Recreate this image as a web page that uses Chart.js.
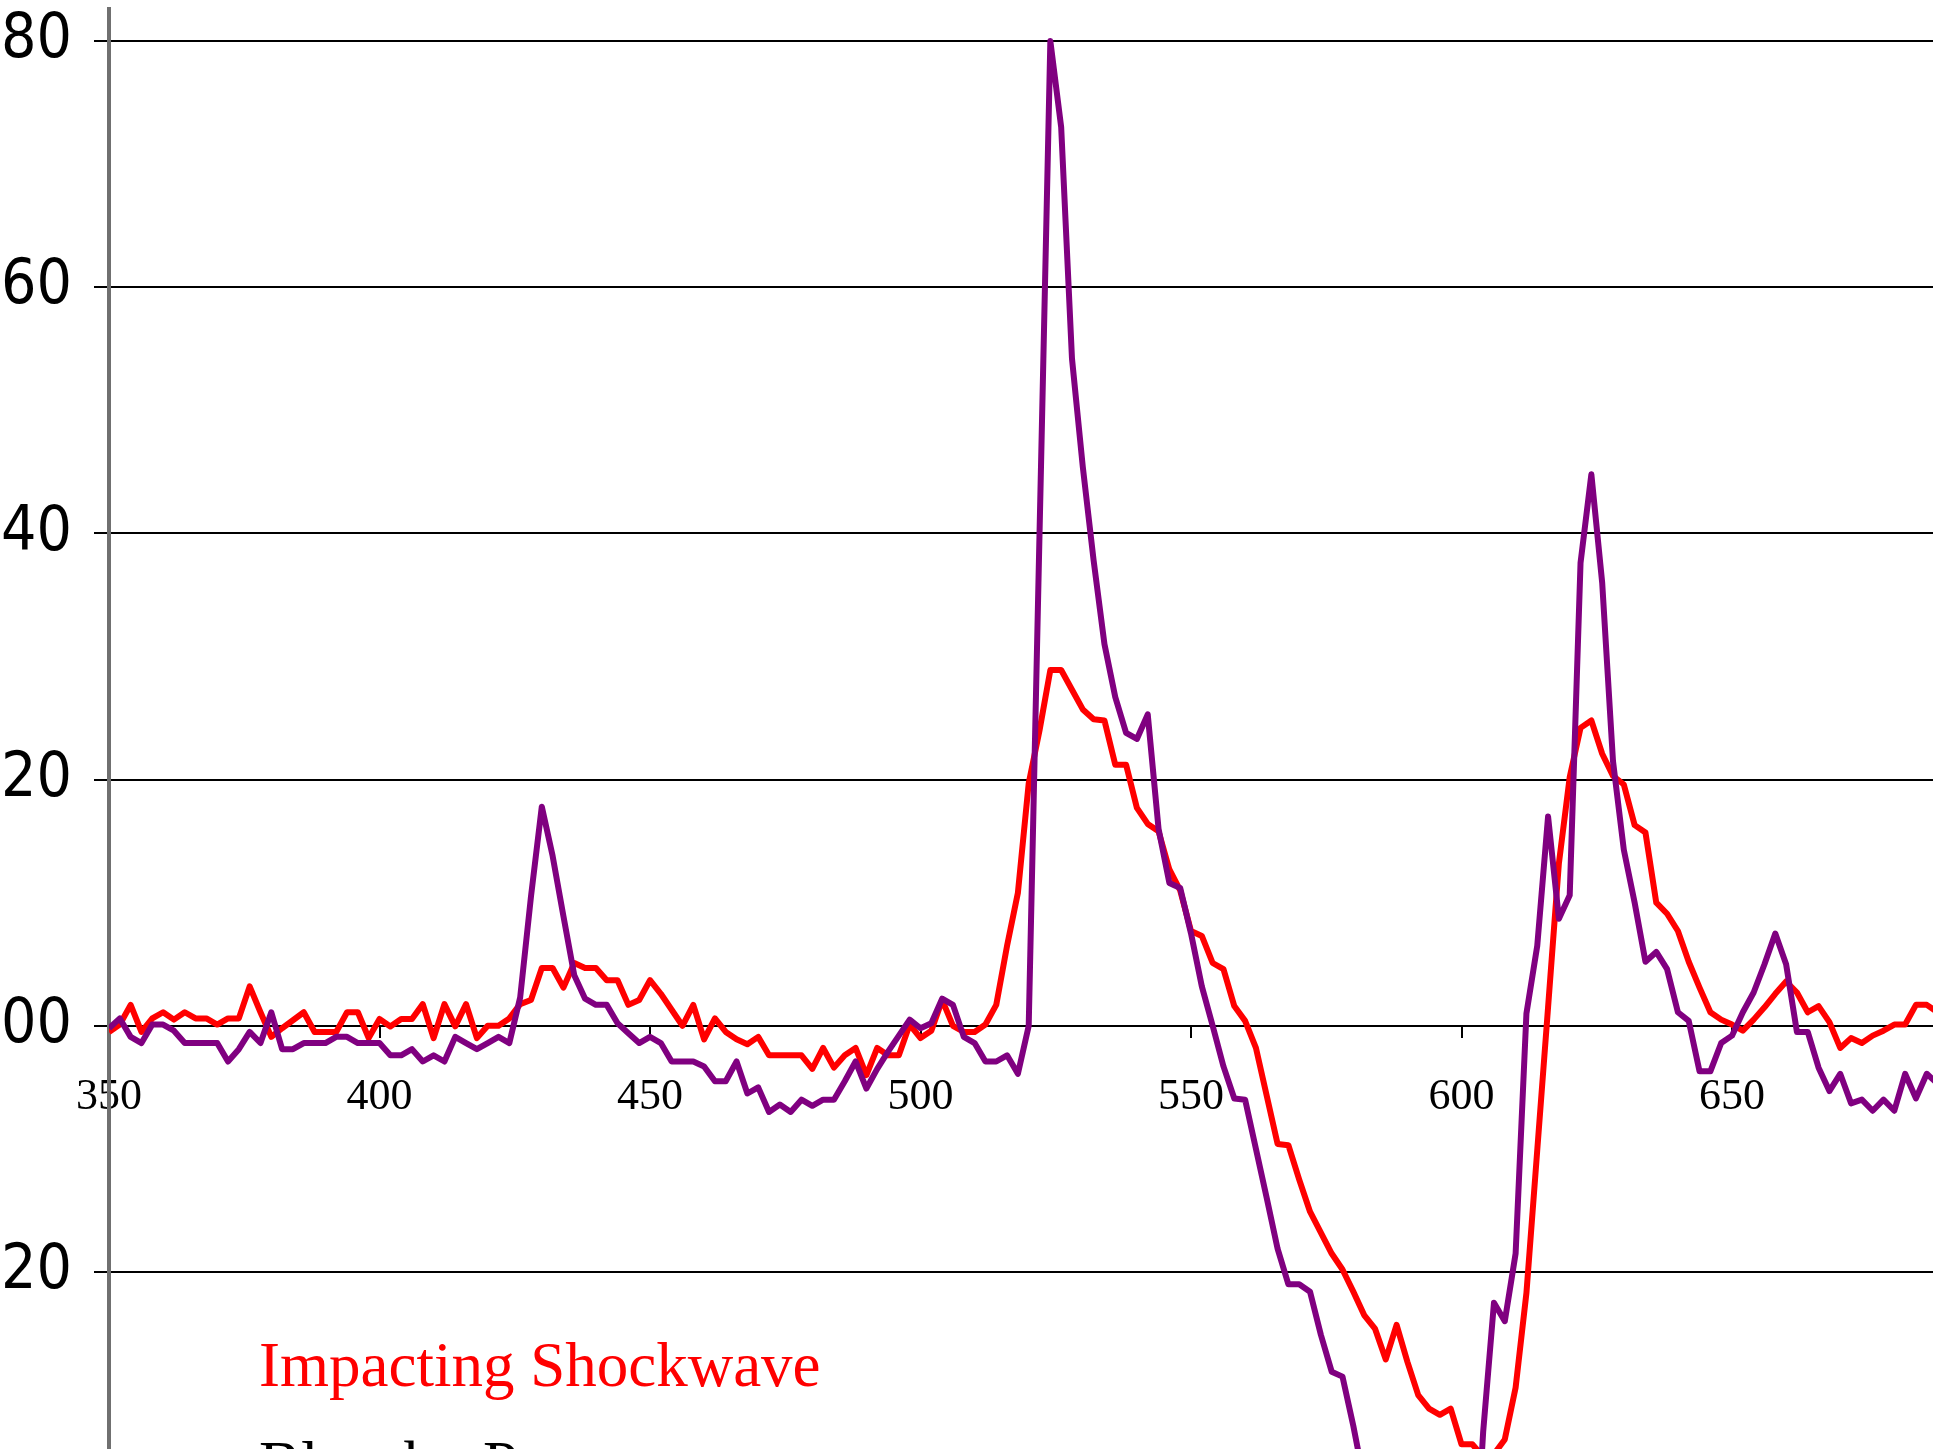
<!DOCTYPE html>
<html>
<head>
<meta charset="utf-8">
<script src="https://cdn.jsdelivr.net/npm/chart.js@4.4.1/dist/chart.umd.min.js"></script>
<style>
  html, body { margin: 0; padding: 0; background: #fff; overflow: hidden; }
  #wrap { position: relative; width: 1933px; height: 1449px; overflow: hidden; }
  .note { position: absolute; white-space: nowrap; font-family: "Liberation Serif", "Times New Roman", serif; font-size: 63px; line-height: 1; }
</style>
</head>
<body>
<div id="wrap">
  <canvas id="chart" width="1933" height="1449"></canvas>
  <div class="note" style="left:259px; top:1334px; color:#ff0000;">Impacting Shockwave</div>
  <div class="note" style="left:259px; top:1433px; color:#000;">Blast by Pressure wave</div>
</div>
<script>
// wavelength grid (nm): first sample and spacing
const startNm = 350;
const stepNm = 2;

// impacting shockwave (red)
const redValues = [
  -0.5, 0.1, 1.7, -0.5, 0.6, 1.1, 0.5, 1.1, 0.6, 0.6,
  0.1, 0.6, 0.6, 3.2, 1.1, -0.9, -0.2, 0.45, 1.1, -0.5,
  -0.5, -0.5, 1.1, 1.1, -1.0, 0.55, -0.05, 0.55, 0.55, 1.76,
  -1.0, 1.76, -0.05, 1.76, -1.0, 0, 0, 0.6, 1.76, 2.1,
  4.7, 4.7, 3.1, 5.1, 4.7, 4.7, 3.7, 3.7, 1.7, 2.1,
  3.7, 2.6, 1.3, 0, 1.7, -1.1, 0.6, -0.5, -1.1, -1.5,
  -0.9, -2.4, -2.4, -2.4, -2.4, -3.5, -1.8, -3.4, -2.4, -1.8,
  -4.0, -1.8, -2.4, -2.4, 0.1, -1.0, -0.4, 2.1, 0, -0.5,
  -0.5, 0.1, 1.7, 6.5, 10.8, 19.7, 24.0, 28.9, 28.9, 27.3,
  25.7, 24.9, 24.8, 21.2, 21.2, 17.7, 16.4, 15.8, 12.7, 11.0,
  7.7, 7.3, 5.1, 4.6, 1.6, 0.4, -1.8, -5.7, -9.6, -9.7,
  -12.5, -15.1, -16.8, -18.5, -19.8, -21.6, -23.5, -24.6, -27.1, -24.3,
  -27.3, -30.0, -31.1, -31.6, -31.1, -34.0, -34.0, -35.0, -34.8, -33.6,
  -29.4, -21.7, -10.1, 1.5, 13.2, 20.2, 24.2, 24.8, 22.1, 20.3,
  19.6, 16.3, 15.7, 10.0, 9.1, 7.7, 5.2, 3.1, 1.1, 0.5,
  0.1, -0.4, 0.5, 1.5, 2.6, 3.6, 2.7, 1.1, 1.6, 0.3,
  -1.8, -1.0, -1.4, -0.8, -0.4, 0.1, 0.1, 1.7, 1.7, 1.1
];

// second trace (purple)
const purpleValues = [
  -0.2, 0.6, -0.9, -1.4, 0.1, 0.1, -0.4, -1.4, -1.4, -1.4,
  -1.4, -2.9, -1.9, -0.5, -1.4, 1.1, -1.9, -1.9, -1.4, -1.4,
  -1.4, -0.9, -0.9, -1.4, -1.4, -1.4, -2.4, -2.4, -1.9, -2.9,
  -2.4, -2.9, -0.9, -1.4, -1.9, -1.4, -0.9, -1.4, 2.3, 10.5,
  17.8, 13.8, 8.9, 4.1, 2.2, 1.7, 1.7, 0.2, -0.6, -1.4,
  -0.9, -1.4, -2.9, -2.9, -2.9, -3.3, -4.5, -4.5, -2.9, -5.5,
  -5.0, -7.0, -6.4, -7.0, -6.0, -6.5, -6.0, -6.0, -4.5, -2.9,
  -5.1, -3.5, -2.1, -0.8, 0.5, -0.2, 0.2, 2.2, 1.7, -0.9,
  -1.4, -2.9, -2.9, -2.4, -3.9, 0, 40, 80, 73, 54.2,
  45.4, 37.8, 31.0, 26.7, 23.8, 23.3, 25.3, 16.0, 11.6, 11.2,
  7.5, 3.2, 0, -3.3, -5.9, -6.0, -10.0, -14.0, -18.1, -21.0,
  -21.0, -21.6, -25.1, -28.1, -28.5, -32.5, -37, -40, -42, -43,
  -44, -45, -45, -45, -46, -47, -48, -33, -22.5, -24.0,
  -18.5, 1.0, 6.5, 17.0, 8.7, 10.6, 37.6, 44.8, 36.0, 21.5,
  14.3, 10.0, 5.2, 6.0, 4.6, 1.1, 0.4, -3.7, -3.7, -1.4,
  -0.8, 1.1, 2.7, 5.0, 7.5, 5.0, -0.5, -0.5, -3.4, -5.3,
  -3.9, -6.3, -6.0, -6.9, -6.0, -6.9, -3.9, -5.9, -3.9, -4.7
];

// axis ticks as printed on the figure
const xTickValues = [350, 400, 450, 500, 550, 600, 650];
const xTickLabels = ["350", "400", "450", "500", "550", "600", "650"];
const yTickValues = [-20, 0, 20, 40, 60, 80];
const yTickLabels = ["20", "00", "20", "40", "60", "80"];

const wavelengths = redValues.map((_, i) => startNm + stepNm * i);

function toPoints(values) {
	return values.map((v, i) => ({x: wavelengths[i], y: v}));
}

const ctx = document.getElementById("chart").getContext("2d");
new Chart(ctx, {
	type: "line",
	data: {
		datasets: [
			{
				label: "purple",
				data: toPoints(purpleValues),
				borderColor: "#800080",
				borderWidth: 6,
				pointRadius: 0,
				tension: 0,
				borderJoinStyle: "round"
			},
			{
				label: "Impacting Shockwave",
				data: toPoints(redValues),
				borderColor: "#ff0000",
				borderWidth: 6,
				pointRadius: 0,
				tension: 0,
				borderJoinStyle: "round"
			}
		]
	},
	options: {
		responsive: false,
		animation: false,
		devicePixelRatio: 1,
		layout: { padding: { top: 9, left: 0, right: 0, bottom: 0 } },
		plugins: { legend: { display: false }, tooltip: { enabled: false } },
		scales: {
			x: {
				type: "linear",
				position: { y: 0 },
				min: 350,
				max: 687.15,
				afterFit: s => {
					s.height = 0;
					s.paddingLeft = 0;
					s.paddingRight = 0;
				},
				afterBuildTicks: s => { s.ticks = xTickValues.map(v => ({value: v})); },
				ticks: {
					callback: v => xTickLabels[xTickValues.indexOf(v)],
					font: { family: "'Liberation Serif', 'Times New Roman', serif", size: 44 },
					color: "#000",
					padding: 33,
					maxRotation: 0,
					autoSkip: false
				},
				grid: { drawOnChartArea: false, color: "#000", lineWidth: 2, tickLength: 12 },
				border: { display: false }
			},
			y: {
				type: "linear",
				min: -34.38,
				max: 82.6,
				afterFit: s => {
					s.width = 109;
					s.paddingTop = 0;
					s.paddingBottom = 0;
				},
				afterBuildTicks: s => { s.ticks = yTickValues.map(v => ({value: v})); },
				ticks: {
					callback: v => yTickLabels[yTickValues.indexOf(v)],
					// narrow sans look of the original axis numbers
					font: { family: "'Liberation Sans Narrow', 'Arial Narrow', 'DejaVu Sans', sans-serif", weight: "normal condensed", size: 62 },
					color: "#000",
					padding: 22
				},
				grid: { color: "#000", lineWidth: 2, tickLength: 15 },
				border: { color: "#707070", width: 4 }
			}
		}
	}
});
</script>
</body>
</html>
